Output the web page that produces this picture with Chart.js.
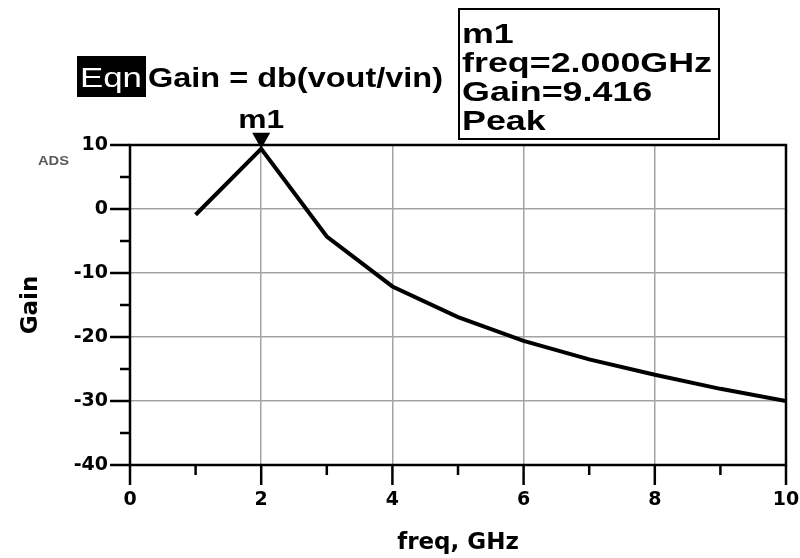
<!DOCTYPE html>
<html>
<head>
<meta charset="utf-8">
<script src="https://cdn.jsdelivr.net/npm/chart.js@4.4.1/dist/chart.umd.min.js"></script>
<style>
  html, body { margin: 0; padding: 0; background: #ffffff; }
  #wrap { width: 800px; height: 558px; position: relative; }
</style>
</head>
<body>
<div id="wrap"><canvas id="c" width="800" height="558"></canvas></div>
<script>
// ---- data ----
const freqGHz = [1, 2, 3, 4, 5, 6, 7, 8, 9, 10];
const gainDb  = [-0.9, 9.416, -4.3, -12.1, -16.9, -20.6, -23.5, -25.9, -28.1, -30.0];
const xTicks = [0, 2, 4, 6, 8, 10];
const yTicks = [10, 0, -10, -20, -30, -40];
const markerName = 'm1';
const markerFreq = 2.0;
const markerGain = 9.416;
const markerLines = ['m1', 'freq=2.000GHz', 'Gain=9.416', 'Peak'];
const equationTag = 'Eqn';
const equationText = 'Gain = db(vout/vin)';
const xTitle = 'freq, GHz';
const yTitle = 'Gain';
const toolLabel = 'ADS';

// ---- helpers ----
function fitText(ctx, text, x, y, width, font, color) {
  ctx.save();
  ctx.font = font;
  ctx.fillStyle = color;
  ctx.textAlign = 'left';
  ctx.textBaseline = 'alphabetic';
  const w = ctx.measureText(text).width;
  const s = width / w;
  ctx.translate(x, y);
  ctx.scale(s, 1);
  ctx.fillText(text, 0, 0);
  ctx.restore();
}

const adsDecor = {
  id: 'adsDecor',
  beforeDatasetsDraw(chart) {
    const { ctx, chartArea: a, scales: { x, y } } = chart;
    ctx.save();
    ctx.strokeStyle = '#000';
    ctx.lineWidth = 2.5;
    ctx.lineCap = 'butt';
    ctx.strokeRect(a.left, a.top, a.right - a.left, a.bottom - a.top);
    const major = 20, minor = 10;
    for (let v = x.min; v <= x.max + 1e-9; v += 1) {
      const px = x.getPixelForValue(v);
      const len = xTicks.includes(v) ? major : minor;
      ctx.beginPath();
      ctx.moveTo(px, a.bottom);
      ctx.lineTo(px, a.bottom + len);
      ctx.stroke();
    }
    for (let v = y.min; v <= y.max + 1e-9; v += 5) {
      const py = y.getPixelForValue(v);
      const len = yTicks.includes(v) ? major : minor;
      ctx.beginPath();
      ctx.moveTo(a.left - len, py);
      ctx.lineTo(a.left, py);
      ctx.stroke();
    }
    ctx.restore();
  },
  afterDatasetsDraw(chart) {
    const { ctx, scales: { x, y } } = chart;
    const mx = x.getPixelForValue(markerFreq);
    const my = y.getPixelForValue(markerGain);
    ctx.save();
    ctx.fillStyle = '#000';
    ctx.beginPath();
    ctx.moveTo(mx, my);
    ctx.lineTo(mx - 9, my - 16);
    ctx.lineTo(mx + 9, my - 16);
    ctx.closePath();
    ctx.fill();
    ctx.restore();
    const nw = 46;
    fitText(ctx, markerName, mx - nw / 2, my - 21, nw, 'bold 25px "Liberation Sans", Arial, sans-serif', '#000');

    fitText(ctx, toolLabel, 38, 165, 31, 'bold 13px "Liberation Sans", Arial, sans-serif', '#5a5a5a');

    ctx.save();
    ctx.fillStyle = '#000';
    ctx.fillRect(77, 56, 69, 41);
    ctx.restore();
    fitText(ctx, equationTag, 80, 87, 62, '27px "Liberation Sans", Arial, sans-serif', '#fff');
    fitText(ctx, equationText, 148, 87, 295, 'bold 27px "Liberation Sans", Arial, sans-serif', '#000');

    ctx.save();
    ctx.strokeStyle = '#000';
    ctx.lineWidth = 2;
    ctx.fillStyle = '#fff';
    ctx.fillRect(459, 9, 260, 130);
    ctx.strokeRect(459, 9, 260, 130);
    ctx.restore();
    const boxFont = 'bold 28px "Liberation Sans", Arial, sans-serif';
    ctx.save();
    ctx.font = boxFont;
    const refW = ctx.measureText(markerLines[1]).width;
    ctx.restore();
    const stretch = 250 / refW;
    const baselines = [43, 72, 101, 130];
    markerLines.forEach((t, i) => {
      ctx.save();
      ctx.font = boxFont;
      const w = ctx.measureText(t).width * stretch;
      ctx.restore();
      fitText(ctx, t, 462, baselines[i], w, boxFont, '#000');
    });
  }
};

const points = freqGHz.map((f, i) => ({ x: f, y: gainDb[i] }));

new Chart(document.getElementById('c'), {
  type: 'line',
  data: {
    datasets: [{
      label: 'Gain',
      data: points,
      borderColor: '#000',
      borderWidth: 4,
      pointRadius: 0,
      tension: 0,
      fill: false
    }]
  },
  options: {
    responsive: false,
    animation: false,
    events: [],
    layout: { padding: { top: 145, right: 14, left: 0, bottom: 0 } },
    plugins: { legend: { display: false }, tooltip: { enabled: false } },
    scales: {
      x: {
        type: 'linear',
        min: 0, max: 10,
        afterBuildTicks: s => { s.ticks = xTicks.map(v => ({ value: v })); },
        afterFit: s => { s.height = 93; s.paddingLeft = 0; s.paddingRight = 0; },
        grid: { color: '#a3a3a3', lineWidth: 1.5, drawTicks: false },
        border: { display: false },
        ticks: {
          color: '#000',
          padding: 24,
          maxRotation: 0,
          font: { family: '"DejaVu Sans", sans-serif', weight: 'bold', size: 19 }
        },
        title: {
          display: true, text: xTitle, color: '#000',
          font: { family: '"DejaVu Sans", sans-serif', weight: 'bold', size: 23 },
          padding: { top: 0, bottom: 1 }
        }
      },
      y: {
        type: 'linear',
        min: -40, max: 10,
        afterBuildTicks: s => { s.ticks = yTicks.map(v => ({ value: v })); },
        afterFit: s => { s.width = 130; s.paddingTop = 0; s.paddingBottom = 0; },
        grid: { color: '#a3a3a3', lineWidth: 1.5, drawTicks: false },
        border: { display: false },
        ticks: {
          color: '#000',
          padding: 22,
          font: { family: '"DejaVu Sans", sans-serif', weight: 'bold', size: 19 }
        },
        title: {
          display: true, text: yTitle, color: '#000',
          font: { family: '"DejaVu Sans", sans-serif', weight: 'bold', size: 23 },
          padding: { top: 17, bottom: 0 }
        }
      }
    }
  },
  plugins: [adsDecor]
});
</script>
</body>
</html>
